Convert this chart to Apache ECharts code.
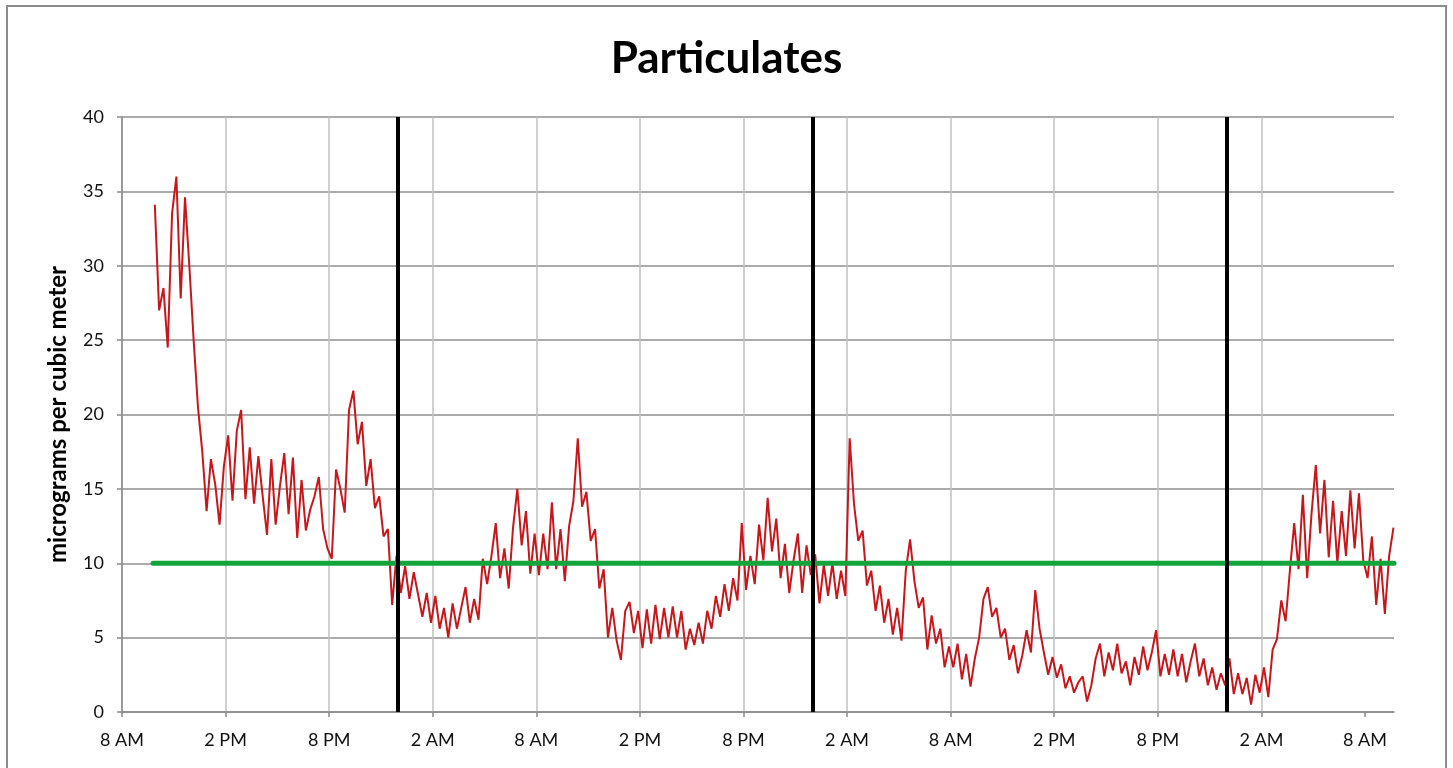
<!DOCTYPE html>
<html>
<head>
<meta charset="utf-8">
<title>Particulates</title>
<script src="https://cdn.jsdelivr.net/npm/echarts@6/dist/echarts.min.js"></script>
<style>
  html, body { margin: 0; padding: 0; background: #fff; }
  #chart { width: 1453px; height: 768px; }
</style>
</head>
<body>
<div id="chart"></div>
<script>
// hours after 8 AM of day 1; one reading every quarter hour
const startHour = 1.9;
const stepHour = 0.25;
const pm = [
  34.1, 27.0, 28.5, 24.5, 33.5, 36.0, 27.8, 34.6, 30.0, 25.0,
  20.5, 17.5, 13.5, 17.0, 15.3, 12.6, 16.5, 18.6, 14.2, 18.9,
  20.3, 14.3, 17.8, 14.0, 17.2, 14.5, 11.9, 17.0, 12.6, 15.2,
  17.4, 13.3, 17.1, 11.7, 15.6, 12.2, 13.6, 14.5, 15.8, 12.3,
  11.0, 10.3, 16.3,
  15.0, 13.4, 20.3, 21.6, 18.0, 19.5, 15.2, 17.0, 13.7, 14.5,
  11.8, 12.3, 7.2, 10.5, 8.0, 9.8, 7.6, 9.4, 7.9, 6.4,
  8.0, 6.0, 7.8, 5.6, 7.0, 5.0, 7.3, 5.6, 7.0, 8.4,
  6.0, 7.6, 6.2, 10.3, 8.6, 10.5, 12.7, 9.0, 11.0, 8.3,
  12.4, 15.0, 11.2, 13.5, 9.3, 12.0,
  9.2, 12.0, 9.6, 14.1, 9.6, 12.3, 8.8, 12.5, 14.2, 18.4,
  13.8, 14.8, 11.5, 12.3, 8.3, 9.6, 5.0, 7.0, 4.8, 3.5,
  6.8, 7.4, 5.3, 6.8, 4.3, 6.9, 4.6, 7.2, 4.9, 7.0,
  5.0, 7.1, 5.0, 6.8, 4.2, 5.6, 4.5, 6.0, 4.6, 6.8,
  5.6, 7.8, 6.4, 8.6, 6.8, 9.0, 7.5, 12.7,
  8.2, 10.5, 8.6, 12.6, 10.2, 14.4, 10.8, 13.0, 9.0, 11.3,
  8.0, 10.2, 12.0, 8.0, 11.2, 9.2, 10.6, 7.3, 9.9, 7.8,
  10.0, 7.6, 9.5, 7.8, 18.4, 14.0, 11.5, 12.2, 8.5, 9.5,
  6.8, 8.5, 6.0, 7.6, 5.2, 7.0, 4.8, 9.5, 11.6, 8.8,
  7.0, 7.7, 4.2, 6.5, 4.6, 5.6, 3.0, 4.4,
  3.0, 4.6, 2.2, 3.9, 1.7, 3.6, 5.0, 7.6, 8.4, 6.4,
  7.0, 5.0, 5.6, 3.5, 4.5, 2.6, 3.8, 5.5, 4.0, 8.2,
  5.6, 4.0, 2.5, 3.7, 2.3, 3.2, 1.6, 2.4, 1.3, 2.0,
  2.4, 0.7, 1.8, 3.6, 4.6, 2.4, 4.0, 2.8, 4.6, 2.6,
  3.4, 1.8, 3.7, 2.5, 4.4, 2.8, 4.0, 5.5, 2.4, 3.9,
  2.5,
  4.2, 2.4, 3.9, 2.0, 3.4, 4.6, 2.4, 3.6, 1.8, 3.0,
  1.5, 2.6, 1.8, 3.6, 1.2, 2.6, 1.2, 2.3, 0.5, 2.5,
  1.3, 3.0, 1.0, 4.2, 4.9, 7.5, 6.1, 9.5, 12.7, 9.6,
  14.6, 9.0, 13.3, 16.6, 12.0, 15.6, 10.4, 14.2, 10.0, 13.5,
  10.5, 14.9, 11.0, 14.7, 10.2, 9.0, 11.8, 7.2, 10.3, 6.6,
  10.5, 12.4
];
// standard line at 10, drawn from first reading to the end of the axis
const standardHours = [1.8, 73.68];
const standardValue = 10;
// midnights
const midnights = [16, 40, 64];
const tickHours = [0, 6, 12, 18, 24, 30, 36, 42, 48, 54, 60, 66, 72];
const tickLabels = ['8 AM', '2 PM', '8 PM', '2 AM'];

const font = 'Lato';
let chart = echarts.init(document.getElementById('chart'));

let pmData = pm.map((v, i) => [startHour + i * stepHour, v]);
let standardData = standardHours.map(h => [h, standardValue]);

let option = {
    animation: false,
    title: {
        text: 'Particulates',
        left: 'center',
        top: 32,
        textStyle: { fontFamily: font, fontSize: 44, fontWeight: 'bold', color: '#000' }
    },
    graphic: [{
        type: 'rect',
        shape: { x: 7, y: 6, width: 1439, height: 800 },
        style: { fill: 'none', stroke: '#8c8c8c', lineWidth: 2 },
        silent: true
    }],
    grid: { left: 122, right: 59, top: 117, bottom: 56 },
    xAxis: {
        type: 'value',
        min: 0,
        max: standardHours[1],
        interval: 6,
        axisLine: { onZero: false, lineStyle: { color: '#8a8a8a', width: 1.5 } },
        axisTick: { show: true, length: 5, customValues: tickHours, lineStyle: { color: '#8a8a8a', width: 1.5 } },
        axisLabel: {
            customValues: tickHours,
            margin: 19,
            fontFamily: font, fontSize: 18, color: '#111',
            formatter: v => tickLabels[Math.round(v / 6) % 4]
        },
        splitLine: { show: true, showMaxLine: false, lineStyle: { color: '#c0c0c0', width: 1.5 } }
    },
    yAxis: {
        type: 'value',
        min: 0,
        max: 40,
        interval: 5,
        name: 'micrograms per cubic meter',
        nameLocation: 'middle',
        nameRotate: 90,
        nameGap: 52,
        nameTextStyle: { fontFamily: font, fontSize: 24, fontWeight: 'bold', color: '#000' },
        axisLine: { show: true, lineStyle: { color: '#8a8a8a', width: 1.5 } },
        axisTick: { show: true, length: 5, lineStyle: { color: '#8a8a8a', width: 1.5 } },
        axisLabel: { margin: 18, fontFamily: font, fontSize: 18, color: '#111' },
        splitLine: { show: true, lineStyle: { color: '#8f8f8f', width: 1.5 } }
    },
    series: [
        {
            name: 'midnight',
            type: 'line',
            data: [],
            z: 1,
            markLine: {
                silent: true,
                symbol: 'none',
                label: { show: false },
                lineStyle: { color: '#000', width: 4, type: 'solid' },
                data: midnights.map(h => ({ xAxis: h }))
            }
        },
        {
            name: 'PM2.5',
            type: 'line',
            data: pmData,
            showSymbol: false,
            z: 2,
            lineStyle: { color: '#c8171b', width: 2 }
        },
        {
            name: 'standard',
            type: 'line',
            data: standardData,
            showSymbol: false,
            z: 3,
            lineStyle: { color: '#13a53b', width: 5, cap: 'round' }
        }
    ]
};
chart.setOption(option);
</script>
</body>
</html>
